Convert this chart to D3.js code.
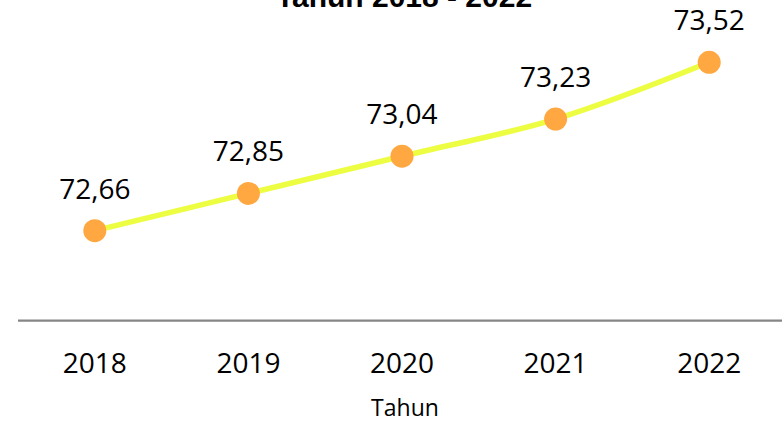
<!DOCTYPE html>
<html>
<head>
<meta charset="utf-8">
<script src="https://cdn.jsdelivr.net/npm/d3@7"></script>
<style>
  html, body { margin: 0; padding: 0; background: #fff; }
  svg { display: block; }
</style>
</head>
<body>
<svg id="chart" width="782" height="423"></svg>
<script>
// Angka harapan hidup per tahun
const years = ["2018", "2019", "2020", "2021", "2022"];
const values = [72.66, 72.85, 73.04, 73.23, 73.52];
const titleText = "Tahun 2018 - 2022";
const axisTitle = "Tahun";

const W = 782, H = 423;
const plot = { left: 18, right: 786, top: 46.6, bottom: 320.7 };

const svg = d3.select("#chart");
svg.append("rect").attr("width", W).attr("height", H).attr("fill", "#fff");

const x = d3.scaleBand().domain(years).range([plot.left, plot.right]).padding(0);
const y = d3.scaleLinear().domain([72.2, 73.6]).range([plot.bottom, plot.top]);

const cx = d => x(d) + x.bandwidth() / 2;
const data = years.map((yr, i) => ({ yr, v: values[i] }));

// Title (partly above the top edge)
svg.append("text")
  .attr("x", 404).attr("y", 7)
  .attr("text-anchor", "middle")
  .attr("font-family", "'Liberation Sans', Arial, sans-serif")
  .attr("font-weight", "bold")
  .attr("font-size", 30)
  .attr("fill", "#000")
  .text(titleText);

// Horizontal axis
const xAxis = d3.axisBottom(x).tickSize(0).tickPadding(0);
const gx = svg.append("g").attr("transform", `translate(0,${plot.bottom})`).call(xAxis);
gx.select(".domain").attr("stroke", "#868686").attr("stroke-width", 2.2).attr("d", `M${plot.left},0H${W}`);
gx.selectAll(".tick text")
  .attr("y", 52).attr("dy", null)
  .attr("font-family", "'Open Sans', sans-serif")
  .attr("font-size", 28)
  .attr("fill", "#000");

svg.append("text")
  .attr("x", 405).attr("y", 416)
  .attr("text-anchor", "middle")
  .attr("font-family", "'Open Sans', sans-serif")
  .attr("font-size", 23)
  .attr("fill", "#000")
  .text(axisTitle);

// Smoothed line
const line = d3.line()
  .x(d => cx(d.yr))
  .y(d => y(d.v))
  .curve(d3.curveCatmullRom.alpha(0.5));

svg.append("path")
  .datum(data)
  .attr("d", line)
  .attr("fill", "none")
  .attr("stroke", "#ECFD42")
  .attr("stroke-width", 5.5)
  .attr("stroke-linecap", "round");

// Markers
svg.selectAll("circle.pt")
  .data(data)
  .join("circle")
  .attr("class", "pt")
  .attr("cx", d => cx(d.yr))
  .attr("cy", d => y(d.v))
  .attr("r", 11.5)
  .attr("fill", "#FFA740");

// Value labels
const fmt = v => v.toFixed(2).replace(".", ",");
svg.selectAll("text.lbl")
  .data(data)
  .join("text")
  .attr("class", "lbl")
  .attr("x", d => cx(d.yr))
  .attr("y", d => y(d.v) - 32)
  .attr("text-anchor", "middle")
  .attr("font-family", "'Open Sans', sans-serif")
  .attr("font-size", 28)
  .attr("fill", "#000")
  .text(d => fmt(d.v));
</script>
</body>
</html>
